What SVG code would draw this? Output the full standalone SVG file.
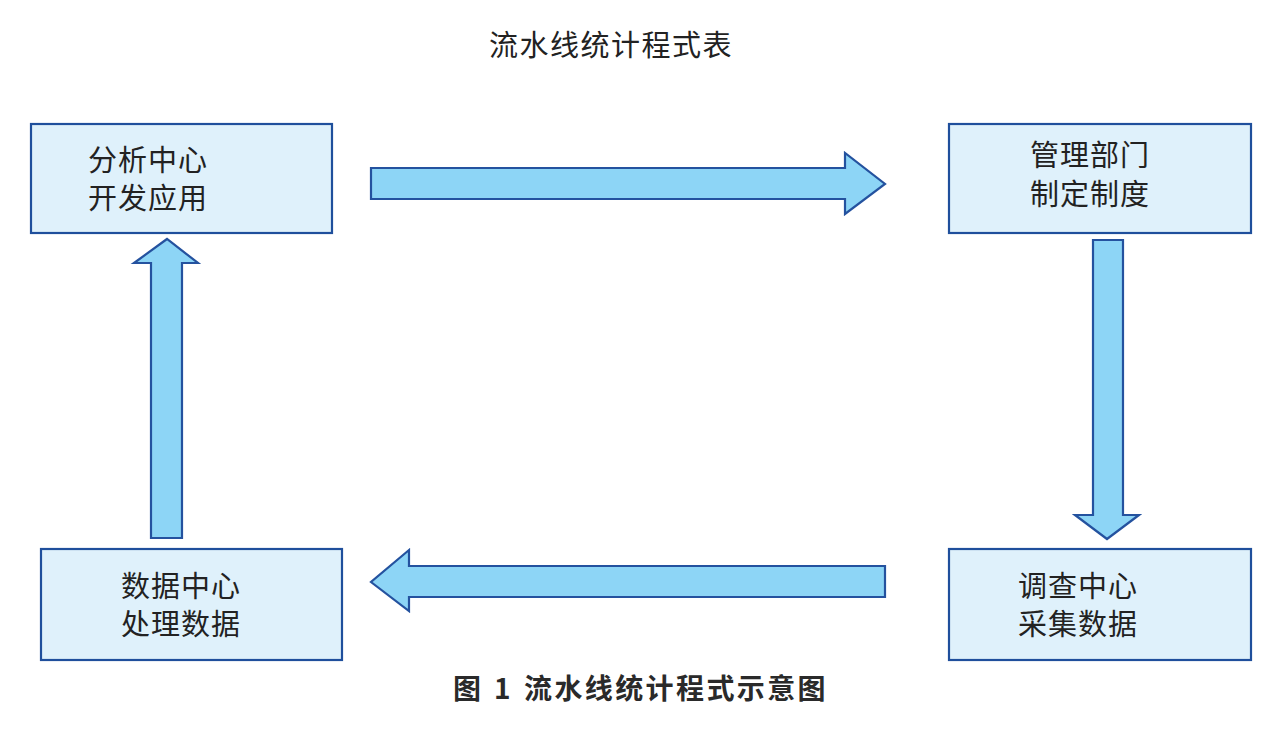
<svg xmlns="http://www.w3.org/2000/svg" width="1288" height="729" viewBox="0 0 1288 729">
<style>
.box{fill:#dff1fb;stroke:#1f4f9c;stroke-width:2.2}
.arrow{fill:#8dd5f6;stroke:#24529f;stroke-width:2.2;stroke-linejoin:miter}
.lbl{font-family:"Noto Sans CJK SC","Liberation Sans",sans-serif;font-size:29px;fill:#222;letter-spacing:1px}
.title{font-family:"Noto Sans CJK SC","Liberation Sans",sans-serif;font-size:29px;fill:#222;letter-spacing:1.5px}
.cap{font-family:"Noto Sans CJK SC","Liberation Sans",sans-serif;font-size:28px;font-weight:bold;fill:#2a2a2a}
</style>
<rect width="1288" height="729" fill="#ffffff"/>
<text class="title" x="489" y="56">流水线统计程式表</text>
<g id="connectors">
<polygon class="arrow" points="371,168 845,168 845,153 885,184 845,214 845,199 371,199"/>
<polygon class="arrow" points="1093,240 1123,240 1123,515 1139,515 1107,539 1075,515 1093,515"/>
<polygon class="arrow" points="885,566 409,566 409,550 371,582 409,611 409,597 885,597"/>
<polygon class="arrow" points="151,538 151,263 134,263 167,239 198,263 182,263 182,538"/>
</g>
<g id="node-analysis">
<rect class="box" x="31" y="124" width="301" height="109"/>
<text class="lbl" x="88" y="171">分析中心</text>
<text class="lbl" x="88" y="209">开发应用</text>
</g>
<g id="node-management">
<rect class="box" x="949" y="124" width="302" height="109"/>
<text class="lbl" x="1030" y="166">管理部门</text>
<text class="lbl" x="1030" y="205">制定制度</text>
</g>
<g id="node-survey">
<rect class="box" x="949" y="549" width="302" height="111"/>
<text class="lbl" x="1018" y="597">调查中心</text>
<text class="lbl" x="1018" y="635">采集数据</text>
</g>
<g id="node-data">
<rect class="box" x="41" y="549" width="301" height="111"/>
<text class="lbl" x="121" y="597">数据中心</text>
<text class="lbl" x="121" y="635">处理数据</text>
</g>
<text class="cap" y="699"><tspan x="453">图</tspan><tspan x="494">1</tspan><tspan x="524" letter-spacing="2.4">流水线统计程式示意图</tspan></text>
</svg>
